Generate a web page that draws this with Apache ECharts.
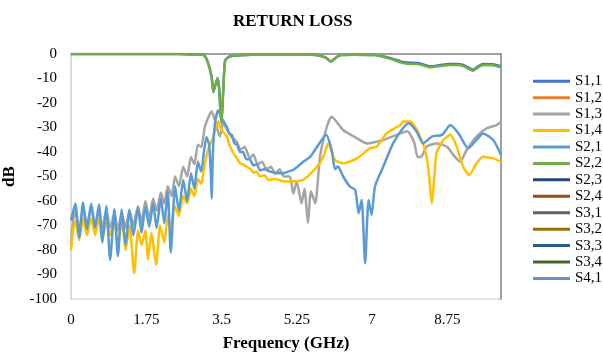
<!DOCTYPE html>
<html>
<head>
<meta charset="utf-8">
<script src="https://cdn.jsdelivr.net/npm/echarts@6/dist/echarts.min.js"></script>
<style>
html,body{margin:0;padding:0;background:#fff;}
#chart{width:603px;height:356px;}
</style>
</head>
<body>
<div id="chart"></div>
<script>
// ---- DATA ----
const seriesNames = ['S1,1','S1,2','S1,3','S1,4','S2,1','S2,2','S2,3','S2,4','S3,1','S3,2','S3,3','S3,4','S4,1'];
const seriesColors = ['#4472C4','#ED7D31','#A5A5A5','#FFC000','#5B9BD5','#70AD47','#264478','#9E480E','#636363','#997300','#255E91','#43682B','#698ED0'];
const xTicks = [0, 1.75, 3.5, 5.25, 7, 8.75];

// S1,1 (mostly hidden under S2,2)
const s11Freq = [0,2.52,2.88,3.0,3.1,3.19,3.27,3.31,3.36,3.41,3.45,3.47,3.5,3.54,3.58,3.64,3.74,3.94,4.34,5.56,5.86,5.95,6.04,6.16,6.25,6.57,7.07,7.25,7.47,7.68,7.81,8.08,8.35,8.59,8.79,8.97,9.14,9.35,9.49,9.58,9.8,10.0];
const s11Db   = [0,0,-0.3,-0.2,-0.6,-3.8,-9.3,-15.5,-12.5,-9.8,-15,-22,-28,-15,-3,-1.5,-0.8,-0.5,-0.2,-0.2,-1,-1.8,-3.1,-1.5,-0.5,-0.3,-0.4,-0.9,-1.9,-3.1,-3.5,-3.7,-5.0,-4.5,-4.1,-4.1,-4.6,-6.4,-4.8,-4.1,-4.2,-5.0];

// S1,3
const s13Freq = [0,0.05,0.10,0.19,0.28,0.37,0.47,0.56,0.65,0.73,0.82,0.91,1.01,1.09,1.18,1.27,1.36,1.45,1.56,1.64,1.73,1.82,1.91,1.99,2.09,2.17,2.25,2.34,2.42,2.51,2.61,2.70,2.79,2.87,2.95,3.03,3.11,3.19,3.27,3.35,3.46,3.54,3.63,3.74,3.86,3.94,4.04,4.16,4.24,4.34,4.44,4.55,4.65,4.75,4.85,4.95,5.09,5.17,5.25,5.36,5.43,5.51,5.58,5.68,5.79,5.95,6.06,6.33,6.65,6.88,7.26,7.57,7.82,7.98,8.06,8.14,8.27,8.50,8.74,8.89,9.05,9.20,9.43,9.67,9.90,10.0];
const s13Db   = [-78,-68,-64,-72,-63,-70,-63,-70,-64,-71,-64,-71,-65,-72,-65,-71,-64,-70,-62,-69,-60,-67,-59,-64,-56.5,-61,-54,-58,-50,-54,-46,-50,-42,-45,-37,-38,-30,-26,-23.5,-27,-33.7,-28,-31,-34,-36,-39,-38,-42.6,-41,-45,-44,-47,-46,-49,-47,-50,-50,-57,-52,-61,-55,-69,-56,-61,-42,-29.7,-25.6,-31,-34.4,-36.5,-35.1,-33,-31.5,-36,-42,-42,-37.8,-36.5,-37.8,-41.2,-44,-39.2,-33.7,-30.3,-29,-27.6];

// S1,4
const s14Freq = [0,0.05,0.10,0.19,0.28,0.37,0.47,0.56,0.65,0.73,0.82,0.91,1.01,1.09,1.18,1.27,1.36,1.47,1.56,1.64,1.73,1.79,1.87,1.98,2.07,2.17,2.25,2.32,2.41,2.51,2.61,2.70,2.79,2.87,2.95,3.03,3.11,3.19,3.31,3.38,3.42,3.50,3.63,3.68,3.78,3.84,3.93,4.00,4.08,4.16,4.25,4.32,4.39,4.50,4.59,4.75,4.94,5.09,5.40,5.72,5.87,5.98,6.14,6.33,6.65,6.95,7.11,7.34,7.66,7.73,7.89,8.12,8.27,8.33,8.39,8.45,8.50,8.66,8.82,8.97,9.12,9.26,9.43,9.58,9.82,10.0];
const s14Db   = [-80,-72,-68,-76,-67,-74,-67,-74,-67,-76,-68,-74,-68,-78,-68,-80,-70,-89.5,-72,-78,-72,-84,-73,-86,-70,-77,-66,-72,-62,-66,-58,-61,-55,-58,-51,-53,-45,-39,-33.7,-29,-27.6,-31,-33.7,-37,-40.5,-42,-44.6,-45,-46,-46.7,-48.5,-48,-50,-49.5,-51.4,-51,-52,-52,-51.4,-46,-41.9,-36.5,-43.3,-44.6,-42.6,-38.5,-37.8,-32.4,-29,-27.6,-27.6,-33.7,-41.9,-50,-61,-50,-40.5,-35.1,-33,-37.8,-46,-49.4,-44.6,-41.9,-42.6,-44];

// S2,1
const s21Freq = [0,0.10,0.19,0.28,0.37,0.47,0.56,0.65,0.73,0.82,0.91,1.01,1.09,1.18,1.27,1.36,1.45,1.56,1.64,1.73,1.82,1.91,1.99,2.09,2.17,2.25,2.32,2.42,2.51,2.61,2.70,2.79,2.87,2.95,3.03,3.09,3.15,3.21,3.25,3.27,3.30,3.35,3.42,3.50,3.63,3.68,3.74,3.80,3.86,3.93,4.00,4.08,4.16,4.24,4.32,4.40,4.49,4.63,4.75,4.94,5.05,5.17,5.40,5.56,5.72,5.93,6.06,6.14,6.21,6.33,6.48,6.61,6.69,6.76,6.84,6.92,6.99,7.07,7.26,7.49,7.69,7.85,8.04,8.19,8.39,8.63,8.82,9.01,9.24,9.43,9.58,9.82,10.0];
const s21Db   = [-68,-61,-75,-60.5,-71.5,-61,-71,-61.4,-77,-62,-84,-63.4,-82.5,-63.6,-78,-63.6,-74,-63,-73,-62.3,-70.5,-61,-71,-59,-69,-56,-81,-54,-64,-51.4,-60,-48.7,-55,-44,-48,-40,-34,-37,-48,-59,-40,-28,-23,-26,-30,-32.5,-33,-36.5,-37,-40,-40,-43,-43,-45.5,-45,-47.5,-47,-48,-48.5,-48.7,-48,-47.3,-44,-42,-38,-33,-39,-47,-45.9,-50,-54,-55.5,-65,-59.6,-85.4,-59.6,-65.7,-54,-46,-36.5,-31,-28.3,-31.7,-36.5,-33.7,-33,-29,-32.4,-38.5,-35.1,-32.4,-35.1,-41.2];

// S2,2
const s22Freq = [0,2.52,2.88,3.0,3.1,3.19,3.27,3.31,3.36,3.41,3.45,3.47,3.5,3.54,3.58,3.64,3.74,3.94,4.34,5.56,5.86,5.95,6.04,6.16,6.25,6.57,7.07,7.25,7.47,7.68,7.81,8.08,8.35,8.59,8.79,8.97,9.14,9.35,9.49,9.58,9.8,10.0];
const s22Db   = [0,0,-0.3,-0.2,-0.6,-3.8,-9.3,-15.5,-12.5,-9.8,-15,-22,-28,-15,-3,-1.5,-0.8,-0.5,-0.2,-0.2,-1,-1.8,-3.1,-1.5,-0.5,-0.3,-0.4,-1.1,-2.2,-3.5,-4,-4.1,-5.4,-4.9,-4.5,-4.5,-5,-6.8,-5.2,-4.5,-4.6,-5.4];

const emptyData = [];

function pairs(fs, vs) { return fs.map((f, i) => [f, vs[i]]); }

const dataByName = {
  'S1,1': pairs(s11Freq, s11Db),
  'S1,2': emptyData,
  'S1,3': pairs(s13Freq, s13Db),
  'S1,4': pairs(s14Freq, s14Db),
  'S2,1': pairs(s21Freq, s21Db),
  'S2,2': pairs(s22Freq, s22Db),
  'S2,3': emptyData, 'S2,4': emptyData, 'S3,1': emptyData, 'S3,2': emptyData,
  'S3,3': emptyData, 'S3,4': emptyData, 'S4,1': emptyData
};

const FONT = 'Liberation Serif';
const chart = echarts.init(document.getElementById('chart'), null, {renderer: 'canvas'});
chart.setOption({
  animation: false,
  backgroundColor: '#fff',
  title: {
    text: 'RETURN LOSS',
    left: 233, top: 13, padding: 0,
    textStyle: {fontFamily: FONT, fontWeight: 'bold', fontSize: 17, color: '#000'}
  },
  legend: {
    orient: 'vertical',
    left: 533, top: 73, padding: 0,
    icon: 'rect',
    itemWidth: 37, itemHeight: 3, itemGap: 0,
    textStyle: {fontFamily: FONT, fontSize: 15, color: '#000', lineHeight: 16.44},
    data: seriesNames
  },
  grid: {left: 71, top: 54, width: 430, height: 245, show: true, borderColor: '#d9d9d9', borderWidth: 1.5,
    containLabel: false, outerBoundsMode: 'none'},
  xAxis: [{
    type: 'value', min: 0, max: 10, interval: 1.75,
    axisLine: {show: true, lineStyle: {color: '#8a8a8a', width: 1.5}},
    axisTick: {show: false},
    splitLine: {show: false},
    axisLabel: {fontFamily: FONT, fontSize: 15, color: '#000', margin: 14, showMaxLabel: false,
      formatter: v => xTicks.includes(Math.round(v*100)/100) ? String(Math.round(v*100)/100) : ''},
    name: 'Frequency (GHz)', nameLocation: 'middle', nameGap: 36,
    nameTextStyle: {fontFamily: FONT, fontWeight: 'bold', fontSize: 17, color: '#000'}
  }],
  yAxis: [{
    type: 'value', min: -100, max: 0, interval: 10,
    axisLine: {show: true, lineStyle: {color: '#d9d9d9', width: 1.5}},
    axisTick: {show: false},
    splitLine: {show: false},
    axisLabel: {fontFamily: FONT, fontSize: 15, color: '#000', margin: 14},
    name: 'dB', nameLocation: 'middle', nameGap: 52,
    nameTextStyle: {fontFamily: FONT, fontWeight: 'bold', fontSize: 17, color: '#000'}
  }, {
    type: 'value', min: -100, max: 0, position: 'right',
    axisLine: {show: true, lineStyle: {color: '#8a8a8a', width: 1.5}},
    axisTick: {show: false}, axisLabel: {show: false}, splitLine: {show: false}
  }],
  series: seriesNames.map((n, i) => ({
    name: n, type: 'line', data: dataByName[n],
    showSymbol: false, symbol: 'none', smooth: 0.2,
    color: seriesColors[i],
    lineStyle: {color: seriesColors[i], width: 2.5},
    z: 2 + i
  }))
});
</script>
</body>
</html>
